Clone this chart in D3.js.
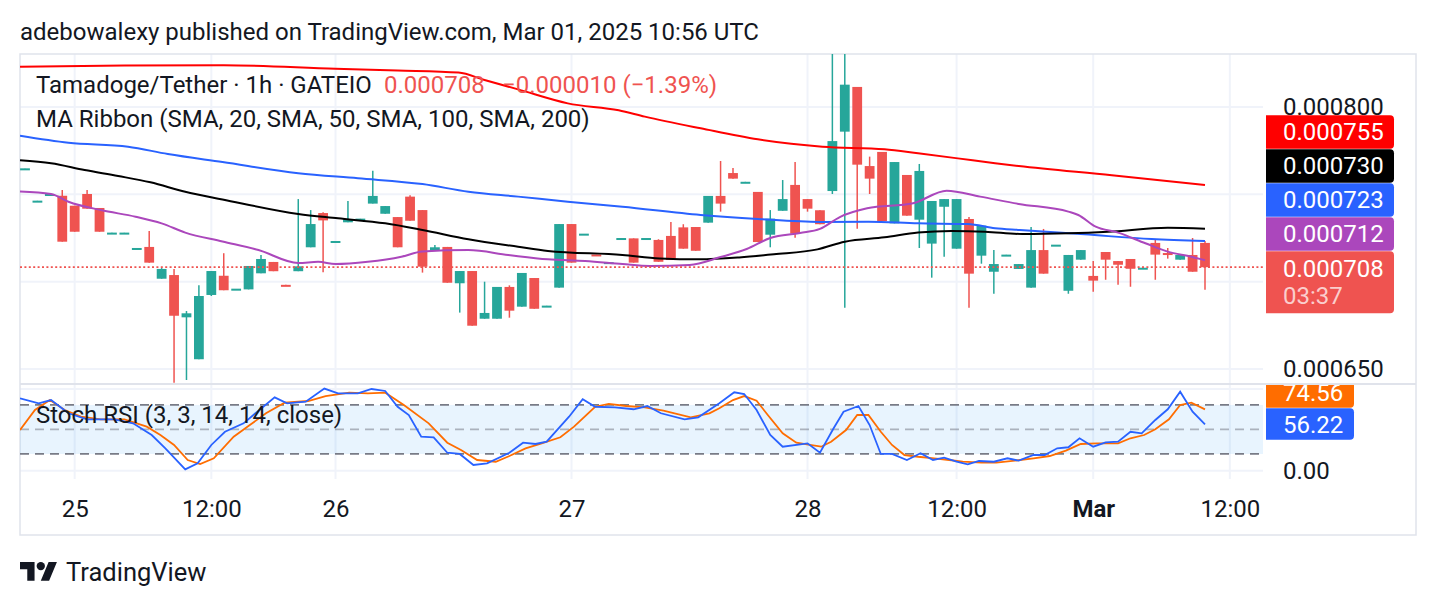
<!DOCTYPE html>
<html lang="en">
<head>
<meta charset="UTF-8">
<title>Tamadoge/Tether 1h GATEIO</title>
<script src="https://d3js.org/d3.v7.min.js"></script>
<style>
  body { margin: 0; background: #fff; }
  text { font-family: Roboto, "Noto Sans", sans-serif; fill: #131722; }
</style>
</head>
<body>
<svg width="1436" height="606"></svg>
<script>
// prices are in units of 1e-6 USDT (708 = 0.000708)
const open = [764.5,746.0,749.8,748.9,743.2,749.9,741.9,727.7,727.7,718.9,719.6,701.4,703.5,679.3,655.3,692.1,703.1,695.6,695.3,704.5,
  711.0,697.9,705.7,719.4,739.0,722.9,733.7,735.7,744.4,738.6,736.7,748.4,740.7,717.4,719.6,698.8,705.8,678.5,678.5,696.7,
  685.4,701.8,685.9,696.3,732.7,727.1,715.3,710.8,724.6,724.5,724.6,723.6,725.9,730.8,731.0,733.5,748.8,761.9,756.8,751.1,
  726.6,740.3,755.1,747.0,740.6,751.6,785.6,811.2,765.9,774.0,733.1,760.8,735.2,721.5,742.6,718.6,735.6,714.6,705.4,715.1,
  707.0,696.3,717.8,720.8,694.5,712.3,703.0,716.7,711.5,712.7,707.6,721.9,716.1,712.3,715.0,721.9];
const high = [764.6,746.1,749.9,752.2,743.2,752.2,741.9,727.8,727.8,719.0,728.7,707.5,707.0,682.9,697.6,705.8,716.0,695.7,708.7,715.0,
  711.0,697.9,747.0,740.7,739.4,723.0,745.9,735.8,763.2,743.0,736.7,749.2,740.7,720.7,719.6,705.8,705.8,699.7,696.7,697.6,
  704.7,701.8,686.0,732.7,732.7,727.2,715.3,710.9,724.7,724.5,724.7,724.0,733.9,732.6,731.0,748.8,768.8,764.8,756.9,751.1,
  740.7,757.9,768.2,747.0,740.6,832.0,832.0,811.2,771.3,774.0,768.2,760.8,767.1,745.9,747.0,747.0,736.7,731.8,717.8,715.2,
  709.8,731.0,729.9,720.9,715.0,717.8,711.5,716.7,711.5,712.7,707.7,723.6,719.0,715.0,724.7,723.0];
const low = [764.5,746.0,749.8,722.6,728.3,741.5,728.3,727.7,727.7,718.9,710.6,701.4,641.9,643.4,655.3,691.5,694.8,695.6,695.3,704.5,
  705.7,697.8,705.7,719.4,705.1,722.9,733.7,735.7,744.4,738.6,719.4,734.6,704.9,717.4,699.1,682.0,674.5,678.5,678.5,679.1,
  685.4,684.2,685.9,696.3,710.6,727.1,715.2,710.8,724.6,710.6,724.6,711.1,712.1,718.6,717.4,733.5,739.8,758.7,756.8,722.4,
  719.4,740.3,724.9,739.8,732.6,749.9,684.8,730.0,749.9,734.4,733.1,737.5,719.0,702.0,714.0,718.6,684.8,710.0,692.8,715.1,
  707.0,696.3,704.3,720.8,692.8,712.3,694.0,700.8,698.0,696.8,707.6,700.8,712.9,712.3,705.4,695.1];
const close = [764.6,746.1,749.9,722.6,728.3,741.5,728.3,727.8,727.8,719.0,710.6,707.0,680.2,681.6,691.5,705.8,694.8,695.7,708.7,712.7,
  705.7,697.8,708.5,732.7,734.8,723.0,735.6,735.8,748.8,743.0,719.4,734.6,708.3,719.4,699.1,705.8,674.5,681.8,696.7,683.1,
  704.7,684.2,686.0,732.7,710.6,727.2,715.2,710.9,724.7,710.6,724.7,711.1,712.1,718.6,717.4,748.8,744.4,758.7,756.9,722.4,
  735.8,747.0,727.2,741.5,732.6,780.2,812.5,766.7,758.7,734.4,768.2,737.5,763.1,745.9,747.0,747.0,704.3,731.8,709.8,715.2,
  709.8,717.8,704.3,720.9,715.0,717.8,700.3,712.3,709.4,707.1,707.7,715.2,715.2,715.0,705.4,708.0];

// moving averages, [bar index, value]
const sma20 = [[-0.4,751.4],[2.1,749.9],[3.5,745.5],[6.1,740.7],[8.9,736.9],[11,733.1],[12.9,727.8],[15.9,722.7],[18.8,717.8],
  [22,710.4],[23.6,711.1],[25,709.8],[27.6,711.1],[30.3,714.0],[32,717.0],[35.7,717.8],[38.9,715.0],[42.1,712.5],[45.1,711.5],
  [48.1,709.8],[50.3,708.7],[53.5,709.3],[56,713.8],[58.1,718.4],[60,724.7],[62.4,727.6],[64,729.9],[65.6,736.7],[67.8,741.7],
  [71.5,744.6],[74.2,751.8],[76.9,748.4],[80,744.2],[84,739.8],[84.8,737.9],[86.2,731.2],[88,727.8],[90.2,721.7],[92,716.9],
  [93.9,714.0],[95,712.0]];
const sma50 = [[-0.4,769.2],[2.1,767.5],[4.8,763.6],[7.5,760.2],[10.1,756.6],[12.9,751.2],[15.9,746.8],[22,738.5],[25.2,736.0],
  [29,733.1],[32,729.3],[35.7,724.0],[39.7,719.7],[42.1,717.3],[48.1,715.0],[51.1,713.0],[54.3,712.5],[57.5,713.6],[60.3,715.4],
  [63.8,718.2],[66,722.6],[69.2,725.1],[71.9,727.8],[74.6,728.7],[77.3,728.3],[80.3,727.0],[84,727.4],[87.2,728.3],[92,730.6],
  [95,730.0]];
const sma100 = [[-0.4,783.3],[3.5,779.3],[8.3,777.0],[11.5,772.8],[15.9,768.2],[22,761.8],[26.8,758.9],[32,755.6],[35.7,751.2],
  [39.7,748.4],[43.7,745.5],[48.1,742.6],[54.4,737.9],[59,735.6],[64,733.9],[67.9,734.0],[71.9,733.1],[75.9,732.7],[78.1,730.3],
  [80.1,729.3],[85.3,726.8],[90.7,724.1],[95,723.0]];
const sma200 = [[-0.4,822.8],[8,823.5],[16,823.6],[25,821.6],[30,820.6],[34.9,819.4],[37,815.2],[39.7,809.8],[43.7,801.8],
  [47.8,797.8],[49.9,794.2],[54.4,787.5],[59,781.2],[64.2,777.0],[69.2,775.5],[71.9,773.2],[75.1,770.3],[78.1,767.5],[80,765.9],
  [87.5,760.6],[95,755.0]];

// Stoch RSI %K and %D, [bar index, value]
const stochK = [[-0.4,88],[1.1,82],[2.1,86],[3.5,69.8],[5,62.4],[7.2,62.4],[8.7,57.5],[10.2,43.2],[11.3,26.9],[12.9,1.2],[13.9,8.6],
  [15,31],[16.1,47.2],[17.6,57.5],[18.7,71.7],[20.1,89.3],[21.1,82],[22.6,84],[24.1,100],[25.2,94.2],[26.8,94.2],[27.9,99.5],
  [29,97.1],[30,77.8],[30.9,67.7],[31.9,41.1],[32.9,40.4],[34,21.5],[35,20],[36.1,6.5],[37.2,8.6],[39,21.5],[40.1,33.8],[41.1,32.2],
  [42,35],[43.8,65.6],[44.9,86.9],[45.9,77.8],[47.5,77.1],[49,74.7],[50.1,78.7],[51.2,69.8],[53.1,62.4],[54.2,64.9],[55.9,82],
  [57.1,95.5],[57.9,93.4],[58.9,73.8],[60,43.2],[61,28.9],[63,33],[64,21.5],[65.1,51.4],[65.9,71.7],[67.1,78.7],[68,55.4],
  [68.9,20],[69.8,20],[71,12.6],[72.1,20.8],[73.1,12.6],[74,15.4],[75,10.5],[75.9,7.3],[76.8,11.4],[78,10.5],[79.1,14.7],
  [80,11.8],[81.2,18.7],[82.1,18.7],[83.1,26.9],[84,28.2],[84.9,39.2],[86,28.9],[87,34.3],[88,35],[89,47.2],[89.9,45.3],
  [91,61.6],[92,74.7],[93,96.2],[94,71.7],[95,56.22]];
const stochD = [[-0.4,49.3],[0.8,73.8],[2,86],[3.2,73.8],[4.5,65.6],[6.1,62.4],[8,62.4],[9.8,53.4],[10.9,43.2],[12,31],[13.1,12.6],
  [14.1,7.7],[15.2,14.7],[16.8,41.1],[18.1,55.4],[19.4,69.8],[20.9,82.7],[22.8,84.8],[24.2,90.9],[26.1,95],[27.6,94.2],[29,95],
  [30.5,79.9],[32.5,57.5],[34,33.8],[35.1,24.8],[36.4,12.6],[37.9,10.5],[39,17.5],[40.3,26.9],[41.6,33],[43.1,40.4],[44.2,53.4],
  [45.9,77.8],[47,81.2],[48.4,78.7],[49.9,77.1],[51.4,73],[53.6,64.9],[55.1,69.8],[55.9,75.9],[57,86],[57.9,90.9],[58.9,85.2],
  [59.8,67.7],[61,45.3],[62.1,33.8],[63.2,31],[64.1,28.9],[64.9,35],[66.1,49.3],[67,67.7],[67.9,67.7],[68.9,47.2],[69.8,31],
  [70.8,18.7],[71.9,16.6],[73.2,14.7],[74.4,12.6],[75.5,10.5],[77,9.3],[78.2,9.3],[79.7,11.8],[81.2,14.7],[82.5,17.5],[83.8,24],
  [85,32.2],[86.3,33],[88,33],[89,39.2],[90.1,43.2],[91,50.2],[92.1,62.4],[93,79.9],[93.9,82.7],[95,74.56]];

const timeTicks = [4, 15, 25, 44, 63, 75, 86, 97];
const timeLabels = ["25", "12:00", "26", "27", "28", "12:00", "Mar", "12:00"];
const priceGrid = [650, 700, 750, 800];
const priceTicks = [800, 650];
const stochBands = [80, 50, 20];

const UP = "#26a69a", DOWN = "#ef5350";
const L = 20, R = 1263, AR = 1416;
const pTop = 54, pBot = 383, sTop = 385, sBot = 479, fBot = 535;

const svg = d3.select("svg");
const x = d3.scaleLinear().domain([0, 95]).range([25, 1205]);
const y = d3.scaleLinear().domain([650, 800]).range([368.5, 106.5]);
const ys = d3.scaleLinear().domain([0, 100]).range([470.3, 388.6]);
const fmt = v => (v / 1e6).toFixed(6);

const defs = svg.append("defs");
function clip(id, x0, y0, x1, y1) {
  defs.append("clipPath").attr("id", id).append("rect")
    .attr("x", x0).attr("y", y0).attr("width", x1 - x0).attr("height", y1 - y0);
}
clip("cp", L, pTop, R, pBot);
clip("cs", L, sTop, R, sBot);
clip("ca", R, sTop, AR, sBot);

// grid
svg.append("g").attr("transform", `translate(${L},0)`)
  .call(d3.axisLeft(y).tickValues(priceGrid).tickSize(-(R - L)).tickFormat(""))
  .call(g => g.select(".domain").remove())
  .call(g => g.selectAll("line").attr("stroke", "#f0f3fa").attr("stroke-width", 2));
svg.append("g").attr("transform", `translate(${L},0)`)
  .call(d3.axisLeft(ys).tickValues([0, 100]).tickSize(-(R - L)).tickFormat(""))
  .call(g => g.select(".domain").remove())
  .call(g => g.selectAll("line").attr("stroke", "#f0f3fa").attr("stroke-width", 2));
[[pTop, pBot], [sTop, sBot]].forEach(([a, b]) => {
  svg.append("g").selectAll("line").data(timeTicks).join("line")
    .attr("x1", d => x(d)).attr("x2", d => x(d)).attr("y1", a).attr("y2", b)
    .attr("stroke", "#f0f3fa").attr("stroke-width", 2);
});

// frame
svg.append("rect").attr("x", L).attr("y", pTop).attr("width", AR - L).attr("height", fBot - pTop)
  .attr("fill", "none").attr("stroke", "#e0e3eb").attr("stroke-width", 1.5);
svg.append("line").attr("x1", L).attr("x2", AR).attr("y1", 384).attr("y2", 384)
  .attr("stroke", "#e0e3eb").attr("stroke-width", 2);

// price pane
const gp = svg.append("g").attr("clip-path", "url(#cp)");
const bars = d3.range(open.length);
gp.append("g").selectAll("line").data(bars).join("line")
  .attr("x1", i => x(i)).attr("x2", i => x(i))
  .attr("y1", i => y(high[i])).attr("y2", i => y(low[i]))
  .attr("stroke", i => close[i] >= open[i] ? UP : DOWN).attr("stroke-width", 1.5);
gp.append("g").selectAll("rect").data(bars).join("rect")
  .attr("x", i => x(i) - 4.9).attr("width", 9.8)
  .attr("y", i => y(Math.max(open[i], close[i])))
  .attr("height", i => Math.max(Math.abs(y(open[i]) - y(close[i])), 2))
  .attr("fill", i => close[i] >= open[i] ? UP : DOWN);

const maLine = d3.line().x(d => x(d[0])).y(d => y(d[1])).curve(d3.curveMonotoneX);
const mas = [
  {data: sma200, color: "#ff0000"},
  {data: sma100, color: "#2962ff"},
  {data: sma50, color: "#000000"},
  {data: sma20, color: "#ab47bc"}
];
mas.forEach(m => gp.append("path").attr("d", maLine(m.data))
  .attr("fill", "none").attr("stroke", m.color).attr("stroke-width", 2));

const lastPrice = close[close.length - 1];
gp.append("line").attr("x1", L).attr("x2", R).attr("y1", y(lastPrice)).attr("y2", y(lastPrice))
  .attr("stroke", DOWN).attr("stroke-width", 1.8).attr("stroke-dasharray", "2,2.4");

// stoch pane
const gs = svg.append("g").attr("clip-path", "url(#cs)");
gs.append("rect").attr("x", L).attr("width", R - L)
  .attr("y", ys(80)).attr("height", ys(20) - ys(80)).attr("fill", "rgba(33,150,243,0.1)");
gs.append("g").selectAll("line").data(stochBands).join("line")
  .attr("x1", L).attr("x2", R).attr("y1", d => ys(d)).attr("y2", d => ys(d))
  .attr("stroke", d => d === 50 ? "rgba(120,123,134,0.55)" : "#787b86")
  .attr("stroke-width", 1.7).attr("stroke-dasharray", "9,6");
const stLine = d3.line().x(d => x(d[0])).y(d => ys(d[1]));
gs.append("path").attr("d", stLine(stochD)).attr("fill", "none").attr("stroke", "#ff6d00").attr("stroke-width", 1.8);
gs.append("path").attr("d", stLine(stochK)).attr("fill", "none").attr("stroke", "#2962ff").attr("stroke-width", 1.8);

// price axis
const FS = 24;
svg.append("g").selectAll("text").data(priceTicks).join("text")
  .attr("x", 1283).attr("y", d => y(d) + 8.5).attr("font-size", FS).text(fmt);

function tagPath(x0, y0, w, h, r) {
  return `M${x0},${y0}h${w - r}a${r},${r} 0 0 1 ${r},${r}v${h - 2 * r}a${r},${r} 0 0 1 ${-r},${r}h${-(w - r)}z`;
}
const tagX = 1266, tagW = 128, tagH = 34;
const lastTop = y(lastPrice) - 16;
const maTags = [
  {v: sma200[sma200.length - 1][1], color: "#ff0000"},
  {v: sma50[sma50.length - 1][1], color: "#000000"},
  {v: sma100[sma100.length - 1][1], color: "#2962ff"},
  {v: sma20[sma20.length - 1][1], color: "#ab47bc"}
];
maTags.forEach((t, k) => {
  const top = lastTop - (maTags.length - k) * tagH;
  svg.append("path").attr("d", tagPath(tagX, top, tagW, tagH - 0.5, 4)).attr("fill", t.color);
  svg.append("text").attr("x", 1283).attr("y", top + 25).attr("font-size", FS)
    .style("fill", "#fff").text(fmt(t.v));
});
svg.append("path").attr("d", tagPath(tagX, lastTop, tagW, 62, 4)).attr("fill", DOWN);
svg.append("text").attr("x", 1283).attr("y", lastTop + 25.6).attr("font-size", FS)
  .style("fill", "#fff").text(fmt(lastPrice));
svg.append("text").attr("x", 1283).attr("y", lastTop + 53).attr("font-size", FS)
  .style("fill", "rgba(255,255,255,0.72)").text("03:37");

// stoch axis
svg.append("text").attr("x", 1283).attr("y", ys(0) + 8.5).attr("font-size", FS).text("0.00");
const ga = svg.append("g").attr("clip-path", "url(#ca)");
const kLast = stochK[stochK.length - 1][1], dLast = stochD[stochD.length - 1][1];
const kTop = ys(kLast) - 16;
[{v: kLast, top: kTop, color: "#2962ff"}, {v: dLast, top: kTop - 32, color: "#ff6d00"}].forEach(t => {
  ga.append("path").attr("d", tagPath(tagX, t.top, 88, 31.5, 4)).attr("fill", t.color);
  ga.append("text").attr("x", 1283).attr("y", t.top + 25).attr("font-size", FS)
    .style("fill", "#fff").text(t.v.toFixed(2));
});

// time axis
svg.append("g").attr("transform", "translate(0,517)")
  .call(d3.axisBottom(x).tickValues(timeTicks).tickFormat((d, i) => timeLabels[i]).tickSize(0))
  .call(g => g.select(".domain").remove())
  .call(g => g.selectAll("text").attr("y", 0).attr("dy", null)
    .attr("font-size", FS).attr("font-family", "Roboto, sans-serif")
    .style("fill", "#131722").attr("font-weight", d => d === 86 ? 700 : 400));

// legends
svg.append("text").attr("x", 36).attr("y", 92.5).attr("font-size", FS).text("Tamadoge/Tether \u00b7 1h \u00b7 GATEIO");
svg.append("text").attr("x", 384).attr("y", 92.5).attr("font-size", FS).style("fill", DOWN).text(fmt(lastPrice));
svg.append("text").attr("x", 502).attr("y", 92.5).attr("font-size", FS).style("fill", DOWN)
  .text("\u22120.000010 (\u22121.39%)");
svg.append("text").attr("x", 36).attr("y", 127.3).attr("font-size", FS)
  .text("MA Ribbon (SMA, 20, SMA, 50, SMA, 100, SMA, 200)");
svg.append("text").attr("x", 36).attr("y", 423.3).attr("font-size", FS)
  .text("Stoch RSI (3, 3, 14, 14, close)");

// header and footer
svg.append("text").attr("x", 20).attr("y", 39.5).attr("font-size", FS)
  .text("adebowalexy published on TradingView.com, Mar 01, 2025 10:56 UTC");
svg.append("g").attr("transform", "translate(20,557.8) scale(1.04)")
  .call(g => {
    g.append("path").attr("d", "M14 22H7V11H0V4h14v18zM28 22h-8l7.5-18h8L28 22z").attr("fill", "#131722");
    g.append("circle").attr("cx", 20).attr("cy", 8).attr("r", 4).attr("fill", "#131722");
  });
svg.append("text").attr("x", 66).attr("y", 581).attr("font-size", 25.5).text("TradingView");
</script>
</body>
</html>
